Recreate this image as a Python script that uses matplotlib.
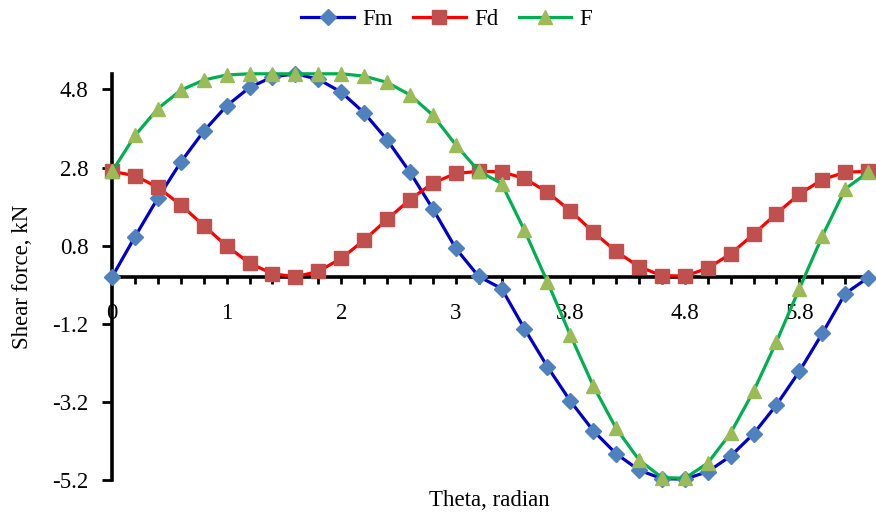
import numpy as np
import matplotlib
matplotlib.use("Agg")
import matplotlib.pyplot as plt

plt.rcParams['font.family'] = ['Liberation Serif', 'DejaVu Serif']

# theta values (radian) - category axis in the original chart
theta = [0, 0.2, 0.4, 0.6, 0.8, 1.0, 1.2, 1.4, 1.6, 1.8, 2.0, 2.2, 2.4, 2.6, 2.8, 3.0,
         3.14, 3.2, 3.4, 3.6, 3.8, 4.0, 4.2, 4.4, 4.6, 4.8, 5.0, 5.2, 5.4, 5.6, 5.8,
         6.0, 6.2, 6.28]
fm = [0.00, 1.03, 2.02, 2.94, 3.73, 4.38, 4.85, 5.12, 5.20, 5.06, 4.73, 4.20, 3.51,
      2.68, 1.74, 0.73, 0.01, -0.30, -1.33, -2.30, -3.18, -3.94, -4.53, -4.95, -5.17,
      -5.18, -4.99, -4.59, -4.02, -3.28, -2.42, -1.45, -0.43, -0.02]
fd = [2.70, 2.59, 2.29, 1.84, 1.31, 0.79, 0.35, 0.08, 0.00, 0.14, 0.47, 0.94, 1.47,
      1.98, 2.40, 2.65, 2.70, 2.69, 2.52, 2.17, 1.69, 1.15, 0.65, 0.26, 0.03, 0.02,
      0.22, 0.59, 1.09, 1.62, 2.12, 2.49, 2.68, 2.70]
f = [2.70, 3.62, 4.31, 4.78, 5.04, 5.17, 5.20, 5.20, 5.20, 5.20, 5.20, 5.14, 4.98,
     4.66, 4.14, 3.38, 2.71, 2.39, 1.19, -0.13, -1.49, -2.79, -3.88, -4.69, -5.14,
     -5.16, -4.77, -4.00, -2.93, -1.66, -0.30, 1.04, 2.25, 2.68]
xtick_labels = ["0", "1", "2", "3", "3.8", "4.8", "5.8"]
yticks = [-5.2, -3.2, -1.2, 0.8, 2.8, 4.8]

x = np.arange(len(theta))
fs = 16.5

fig = plt.figure(figsize=(8.76, 5.16), dpi=100)
ax = fig.add_axes([0.128, 0.07, 0.863, 0.787])

ax.plot(x, fm, color='#0000CC', lw=2.3, marker='D', ms=8.5, mfc='#4F81BD', mec='#4F81BD',
        label='Fm', clip_on=False, zorder=4)
ax.plot(x, fd, color='#FF0000', lw=2.3, marker='s', ms=9.5, mfc='#C0504D', mec='#C0504D',
        label='Fd', clip_on=False, zorder=5)
ax.plot(x, f, color='#00B050', lw=2.3, marker='^', ms=10.5, mfc='#9BBB59', mec='#9BBB59',
        label='F', clip_on=False, zorder=6)

ax.set_xlim(0, len(theta) - 1)
ax.set_ylim(-5.2, 5.2)

ax.spines['left'].set_position(('data', 0))
ax.spines['bottom'].set_position(('data', 0))
ax.spines['top'].set_visible(False)
ax.spines['right'].set_visible(False)
for s in ['left', 'bottom']:
    ax.spines[s].set_linewidth(2.6)
    ax.spines[s].set_zorder(2)

ax.set_xticks(x)
labels = [''] * len(x)
for i, lab in enumerate(xtick_labels):
    labels[i * 5] = lab
ax.set_xticklabels(labels)
ax.set_yticks(yticks)
ax.set_yticklabels([str(v) for v in yticks])
ax.tick_params(axis='x', direction='out', length=5, width=2, pad=14, labelsize=fs)
ax.tick_params(axis='y', direction='out', length=7, width=2, pad=10, labelsize=fs)

ax.set_ylabel('Shear force, kN', fontsize=fs, labelpad=14)
fig.text(0.559, 0.03, 'Theta, radian', fontsize=fs, ha='center', va='center')

fig.legend(loc='center', bbox_to_anchor=(0.51, 0.962), ncol=3, frameon=False,
           fontsize=fs, handlelength=2.3, handletextpad=0.35, columnspacing=0.9)

fig.savefig('out.png', dpi=100)
